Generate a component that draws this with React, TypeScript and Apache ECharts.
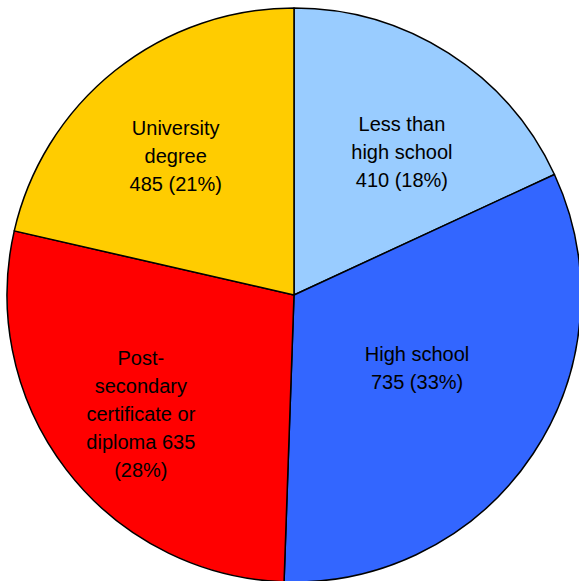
import React, { useEffect, useRef } from "react";
import * as echarts from "echarts";

const categories = [
  "Less than\nhigh school",
  "High school",
  "Post-\nsecondary\ncertificate or\ndiploma",
  "University\ndegree",
];
const values = [410, 735, 635, 485];
const colors = ["#99CCFF", "#3366FF", "#FF0000", "#FFCC00"];
const labelFormats = [
  "{b}\n{c} ({d}%)",
  "{b}\n{c} ({d}%)",
  "{b} {c}\n({d}%)",
  "{b}\n{c} ({d}%)",
];
const labelOffsets = [
  [29, -20],
  [1, -8],
  [-37, 30],
  [-27, -24],
];

export default function App() {
  const ref = useRef<HTMLDivElement>(null);
  useEffect(() => {
    if (!ref.current) return;
    const chart = echarts.init(ref.current, undefined, { renderer: "svg" });
    chart.setOption({
      animation: false,
      backgroundColor: "#ffffff",
      series: [
        {
          type: "pie",
          center: [294, 295],
          radius: [0, 287],
          startAngle: 90,
          clockwise: true,
          percentPrecision: 0,
          silent: true,
          itemStyle: { borderColor: "#000000", borderWidth: 1.5 },
          label: {
            show: true,
            position: "inside",
            color: "#000000",
            fontFamily: "Arial, 'Liberation Sans', sans-serif",
            fontSize: 20,
            lineHeight: 28,
            align: "center",
          },
          labelLine: { show: false },
          labelLayout: (params: any) => {
            const o = labelOffsets[params.dataIndex];
            return { dx: o[0], dy: o[1] };
          },
          data: values.map((v, i) => ({
            name: categories[i],
            value: v,
            itemStyle: { color: colors[i] },
            label: { formatter: labelFormats[i] },
          })),
        },
      ],
    });
    return () => chart.dispose();
  }, []);
  return (
    <div
      ref={ref}
      style={{ position: "fixed", left: 0, top: 0, width: 579, height: 581 }}
    />
  );
}
